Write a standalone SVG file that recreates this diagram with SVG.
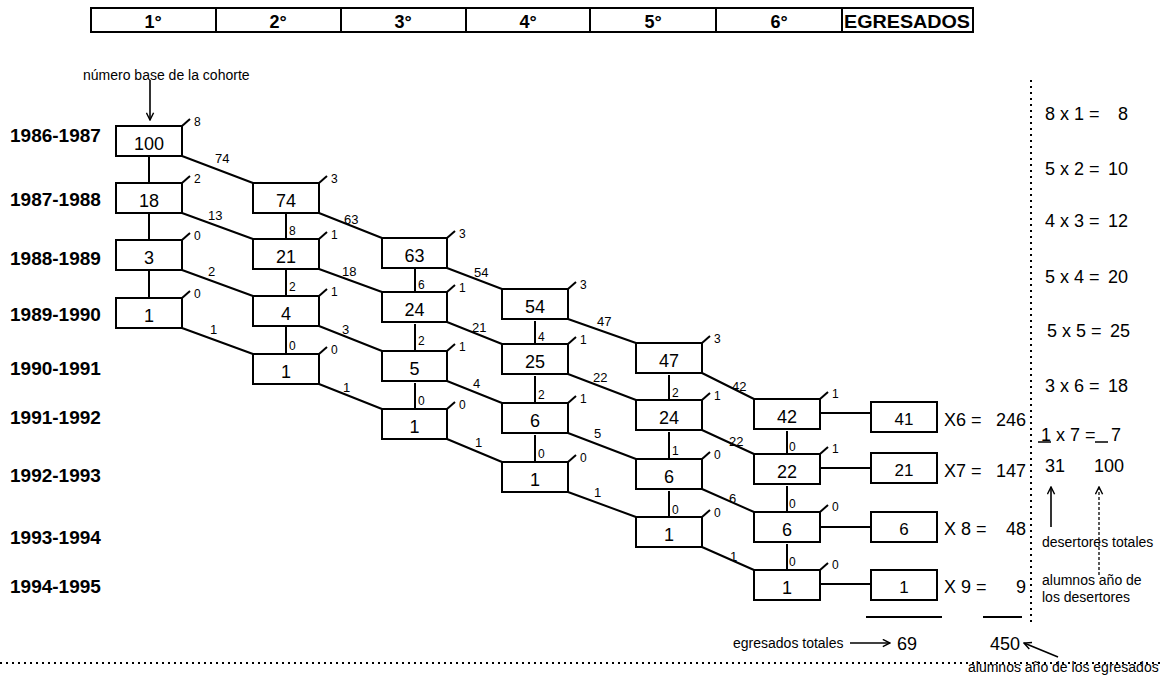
<svg xmlns="http://www.w3.org/2000/svg" width="1164" height="675" viewBox="0 0 1164 675">
<defs>
<style>
text{font-family:"Liberation Sans",Arial,sans-serif;fill:#000}
.hdr{font-size:18px;font-weight:bold;text-anchor:middle}
.yr{font-size:19px;font-weight:bold}
.box rect{fill:#fff;stroke:#000;stroke-width:2}
.num{font-size:18px;text-anchor:middle}
.egr .num{font-size:17px}
.tk{font-size:12px}
.dl{font-size:13px}
.vl{font-size:12px}
.ln{stroke:#000;stroke-width:2;fill:none}
.tick{stroke:#000;stroke-width:2}
.dot{stroke:#000;stroke-width:2;stroke-dasharray:2,4;fill:none}
.f17{font-size:17px}
.f18{font-size:18px}
.ann{font-size:14px}
</style>
<marker id="ah" viewBox="0 0 10 10" refX="9" refY="5" markerWidth="9" markerHeight="9" orient="auto" markerUnits="userSpaceOnUse">
<path d="M1,1 L9,5 L1,9" fill="none" stroke="#000" stroke-width="1.6"/>
</marker>
</defs>
<rect width="1164" height="675" fill="#fff"/>

<g id="header">
<rect x="91" y="8" width="882" height="24" fill="#fff" stroke="#000" stroke-width="2"/>
<path class="ln" d="M216,8V32M341,8V32M466,8V32M590,8V32M716,8V32M842,8V32"/>
<text class="hdr" x="153" y="28">1°</text>
<text class="hdr" x="278" y="28">2°</text>
<text class="hdr" x="403" y="28">3°</text>
<text class="hdr" x="528" y="28">4°</text>
<text class="hdr" x="653" y="28">5°</text>
<text class="hdr" x="779" y="28">6°</text>
<text class="hdr" x="907" y="28" textLength="126" lengthAdjust="spacingAndGlyphs">EGRESADOS</text>
</g>

<g id="years">
<text class="yr" x="10" y="142">1986-1987</text>
<text class="yr" x="10" y="206">1987-1988</text>
<text class="yr" x="10" y="265">1988-1989</text>
<text class="yr" x="10" y="321">1989-1990</text>
<text class="yr" x="10" y="375">1990-1991</text>
<text class="yr" x="10" y="424">1991-1992</text>
<text class="yr" x="10" y="482">1992-1993</text>
<text class="yr" x="10" y="544">1993-1994</text>
<text class="yr" x="10" y="593">1994-1995</text>
</g>

<g id="connectors">
<!-- vertical -->
<path class="ln" d="M149,156V183M149,213V240M149,270V298"/>
<path class="ln" d="M286,213V239M286,269V296M286,326V354"/>
<path class="ln" d="M415,268V292M415,324V351M415,383V409"/>
<path class="ln" d="M535,321V344M535,376V403M535,435V462"/>
<path class="ln" d="M669,375V400M669,432V459M669,491V517"/>
<path class="ln" d="M787,431V454M787,486V512M787,544V570"/>
<!-- diagonal -->
<path class="ln" d="M182,156L253,183M182,213L253,239M182,270L253,296M182,328L253,354"/>
<path class="ln" d="M319,213L382,238M319,269L382,292M319,326L382,351M319,384L382,409"/>
<path class="ln" d="M447,268L502,289M447,322L502,344M447,381L502,403M447,439L502,462"/>
<path class="ln" d="M568,319L636,343M568,374L636,400M568,433L636,459M568,492L636,517"/>
<path class="ln" d="M702,373L754,399M702,430L754,454M702,489L754,512M702,547L754,570"/>
<!-- horizontal to egresados -->
<path class="ln" d="M820,413H871M820,468H871M820,527H871M820,584H871"/>
<!-- vertical labels -->
<text class="vl" x="289" y="235">8</text>
<text class="vl" x="289" y="291">2</text>
<text class="vl" x="289" y="350">0</text>
<text class="vl" x="418" y="289">6</text>
<text class="vl" x="418" y="345">2</text>
<text class="vl" x="418" y="405">0</text>
<text class="vl" x="538" y="341">4</text>
<text class="vl" x="538" y="399">2</text>
<text class="vl" x="538" y="458">0</text>
<text class="vl" x="672" y="397">2</text>
<text class="vl" x="672" y="455">1</text>
<text class="vl" x="672" y="514">0</text>
<text class="vl" x="789" y="451">0</text>
<text class="vl" x="789" y="508">0</text>
<text class="vl" x="789" y="566">0</text>
<!-- diagonal labels -->
<text class="dl" x="215" y="163">74</text>
<text class="dl" x="208" y="220">13</text>
<text class="dl" x="208" y="276">2</text>
<text class="dl" x="210" y="334">1</text>
<text class="dl" x="344" y="224">63</text>
<text class="dl" x="342" y="276">18</text>
<text class="dl" x="342" y="334">3</text>
<text class="dl" x="343" y="392">1</text>
<text class="dl" x="474" y="277">54</text>
<text class="dl" x="472" y="332">21</text>
<text class="dl" x="473" y="388">4</text>
<text class="dl" x="475" y="447">1</text>
<text class="dl" x="597" y="326">47</text>
<text class="dl" x="593" y="382">22</text>
<text class="dl" x="594" y="438">5</text>
<text class="dl" x="594" y="497">1</text>
<text class="dl" x="732" y="391">42</text>
<text class="dl" x="729" y="446">22</text>
<text class="dl" x="729" y="503">6</text>
<text class="dl" x="730" y="561">1</text>
</g>

<g id="c1">
<g class="box" id="n1986c1"><rect x="116" y="126" width="66" height="30"/><text class="num" x="149" y="150">100</text><line class="tick" x1="182" y1="126" x2="190" y2="119"/><text class="tk" x="194" y="126">8</text></g>
<g class="box" id="n1987c1"><rect x="116" y="183" width="66" height="30"/><text class="num" x="149" y="207">18</text><line class="tick" x1="182" y1="183" x2="190" y2="176"/><text class="tk" x="194" y="183">2</text></g>
<g class="box" id="n1988c1"><rect x="116" y="240" width="66" height="30"/><text class="num" x="149" y="264">3</text><line class="tick" x1="182" y1="240" x2="190" y2="233"/><text class="tk" x="194" y="240">0</text></g>
<g class="box" id="n1989c1"><rect x="116" y="298" width="66" height="30"/><text class="num" x="149" y="322">1</text><line class="tick" x1="182" y1="298" x2="190" y2="291"/><text class="tk" x="194" y="298">0</text></g>
</g>

<g id="c2">
<g class="box" id="n1987c2"><rect x="253" y="183" width="66" height="30"/><text class="num" x="286" y="207">74</text><line class="tick" x1="319" y1="183" x2="327" y2="176"/><text class="tk" x="331" y="183">3</text></g>
<g class="box" id="n1988c2"><rect x="253" y="239" width="66" height="30"/><text class="num" x="286" y="263">21</text><line class="tick" x1="319" y1="239" x2="327" y2="232"/><text class="tk" x="331" y="239">1</text></g>
<g class="box" id="n1989c2"><rect x="253" y="296" width="66" height="30"/><text class="num" x="286" y="320">4</text><line class="tick" x1="319" y1="296" x2="327" y2="289"/><text class="tk" x="331" y="296">1</text></g>
<g class="box" id="n1990c2"><rect x="253" y="354" width="66" height="30"/><text class="num" x="286" y="378">1</text><line class="tick" x1="319" y1="354" x2="327" y2="347"/><text class="tk" x="331" y="354">0</text></g>
</g>

<g id="c3">
<g class="box" id="n1988c3"><rect x="382" y="238" width="65" height="30"/><text class="num" x="414.5" y="262">63</text><line class="tick" x1="447" y1="238" x2="455" y2="231"/><text class="tk" x="459" y="238">3</text></g>
<g class="box" id="n1989c3"><rect x="382" y="292" width="65" height="30"/><text class="num" x="414.5" y="316">24</text><line class="tick" x1="447" y1="292" x2="455" y2="285"/><text class="tk" x="459" y="292">1</text></g>
<g class="box" id="n1990c3"><rect x="382" y="351" width="65" height="30"/><text class="num" x="414.5" y="375">5</text><line class="tick" x1="447" y1="351" x2="455" y2="344"/><text class="tk" x="459" y="351">1</text></g>
<g class="box" id="n1991c3"><rect x="382" y="409" width="65" height="30"/><text class="num" x="414.5" y="433">1</text><line class="tick" x1="447" y1="409" x2="455" y2="402"/><text class="tk" x="459" y="409">0</text></g>
</g>

<g id="c4">
<g class="box" id="n1989c4"><rect x="502" y="289" width="66" height="30"/><text class="num" x="535" y="313">54</text><line class="tick" x1="568" y1="289" x2="576" y2="282"/><text class="tk" x="580" y="289">3</text></g>
<g class="box" id="n1990c4"><rect x="502" y="344" width="66" height="30"/><text class="num" x="535" y="368">25</text><line class="tick" x1="568" y1="344" x2="576" y2="337"/><text class="tk" x="580" y="344">1</text></g>
<g class="box" id="n1991c4"><rect x="502" y="403" width="66" height="30"/><text class="num" x="535" y="427">6</text><line class="tick" x1="568" y1="403" x2="576" y2="396"/><text class="tk" x="580" y="403">1</text></g>
<g class="box" id="n1992c4"><rect x="502" y="462" width="66" height="30"/><text class="num" x="535" y="486">1</text><line class="tick" x1="568" y1="462" x2="576" y2="455"/><text class="tk" x="580" y="462">0</text></g>
</g>

<g id="c5">
<g class="box" id="n1990c5"><rect x="636" y="343" width="66" height="30"/><text class="num" x="669" y="367">47</text><line class="tick" x1="702" y1="343" x2="710" y2="336"/><text class="tk" x="714" y="343">3</text></g>
<g class="box" id="n1991c5"><rect x="636" y="400" width="66" height="30"/><text class="num" x="669" y="424">24</text><line class="tick" x1="702" y1="400" x2="710" y2="393"/><text class="tk" x="714" y="400">1</text></g>
<g class="box" id="n1992c5"><rect x="636" y="459" width="66" height="30"/><text class="num" x="669" y="483">6</text><line class="tick" x1="702" y1="459" x2="710" y2="452"/><text class="tk" x="714" y="459">0</text></g>
<g class="box" id="n1993c5"><rect x="636" y="517" width="66" height="30"/><text class="num" x="669" y="541">1</text><line class="tick" x1="702" y1="517" x2="710" y2="510"/><text class="tk" x="714" y="517">0</text></g>
</g>

<g id="c6">
<g class="box" id="n1991c6"><rect x="754" y="399" width="66" height="30"/><text class="num" x="787" y="423">42</text><line class="tick" x1="820" y1="399" x2="828" y2="392"/><text class="tk" x="832" y="398">1</text></g>
<g class="box" id="n1992c6"><rect x="754" y="454" width="66" height="30"/><text class="num" x="787" y="478">22</text><line class="tick" x1="820" y1="454" x2="828" y2="447"/><text class="tk" x="832" y="453">1</text></g>
<g class="box" id="n1993c6"><rect x="754" y="512" width="66" height="30"/><text class="num" x="787" y="536">6</text><line class="tick" x1="820" y1="512" x2="828" y2="505"/><text class="tk" x="832" y="511">0</text></g>
<g class="box" id="n1994c6"><rect x="754" y="570" width="66" height="30"/><text class="num" x="787" y="594">1</text><line class="tick" x1="820" y1="570" x2="828" y2="563"/><text class="tk" x="832" y="569">0</text></g>
</g>

<g id="egresados" class="egr">
<g class="box" id="e1991"><rect x="871" y="402" width="66" height="30"/><text class="num" x="904" y="425">41</text></g>
<g class="box" id="e1992"><rect x="871" y="453" width="66" height="30"/><text class="num" x="904" y="476">21</text></g>
<g class="box" id="e1993"><rect x="871" y="512" width="66" height="30"/><text class="num" x="904" y="535">6</text></g>
<g class="box" id="e1994"><rect x="871" y="570" width="66" height="30"/><text class="num" x="904" y="593">1</text></g>
</g>

<g id="products">
<text class="f18" x="944" y="426">X6 =</text><text class="f18" x="1026" y="426" text-anchor="end">246</text>
<text class="f18" x="944" y="477">X7 =</text><text class="f18" x="1026" y="477" text-anchor="end">147</text>
<text class="f18" x="944" y="535">X 8 =</text><text class="f18" x="1026" y="535" text-anchor="end">48</text>
<text class="f18" x="944" y="593">X 9 =</text><text class="f18" x="1026" y="593" text-anchor="end">9</text>
<path class="ln" d="M866,617H942M983,617H1022"/>
</g>

<g id="desertores">
<text class="f18" x="1045" y="120">8 x 1 =</text><text class="f18" x="1128" y="120" text-anchor="end">8</text>
<text class="f18" x="1045" y="175">5 x 2 =</text><text class="f18" x="1128" y="175" text-anchor="end">10</text>
<text class="f18" x="1045" y="227">4 x 3 =</text><text class="f18" x="1128" y="227" text-anchor="end">12</text>
<text class="f18" x="1045" y="283">5 x 4 =</text><text class="f18" x="1128" y="283" text-anchor="end">20</text>
<text class="f18" x="1047" y="337">5 x 5 =</text><text class="f18" x="1130" y="337" text-anchor="end">25</text>
<text class="f18" x="1045" y="392">3 x 6 =</text><text class="f18" x="1128" y="392" text-anchor="end">18</text>
<text class="f18" x="1041" y="441">1 x 7 =</text><text class="f18" x="1121" y="441" text-anchor="end">7</text>
<path stroke="#000" stroke-width="1.5" d="M1038,442H1051M1095,442H1108"/>
<text class="f18" x="1045" y="472">31</text>
<text class="f18" x="1094" y="472">100</text>
<line class="ln" x1="1051" y1="527" x2="1051" y2="487" marker-end="url(#ah)" style="stroke-width:1.6"/>
<line x1="1099" y1="575" x2="1099" y2="487" stroke="#000" stroke-width="1.3" stroke-dasharray="3,2" marker-end="url(#ah)"/>
<text class="ann" x="1042" y="547">desertores totales</text>
<text class="ann" x="1042" y="585">alumnos año de</text>
<text class="ann" x="1042" y="602">los desertores</text>
</g>

<g id="annotations">
<text class="ann" x="83" y="80">número base de la cohorte</text>
<line x1="150" y1="80" x2="150" y2="120" stroke="#000" stroke-width="1.6" marker-end="url(#ah)"/>
<text class="ann" x="733" y="648">egresados totales</text>
<line x1="850" y1="643" x2="890" y2="643" stroke="#000" stroke-width="1.6" marker-end="url(#ah)"/>
<text class="f18" x="897" y="650">69</text>
<text class="f18" x="990" y="650">450</text>
<line x1="1058" y1="657" x2="1024" y2="643" stroke="#000" stroke-width="1.6" marker-end="url(#ah)"/>
<text class="ann" x="968" y="672">alumnos año de los egresados</text>
</g>

<g id="dotted">
<line class="dot" x1="1031" y1="80" x2="1031" y2="622"/>
<line class="dot" x1="0" y1="663" x2="1164" y2="663"/>
</g>
</svg>
